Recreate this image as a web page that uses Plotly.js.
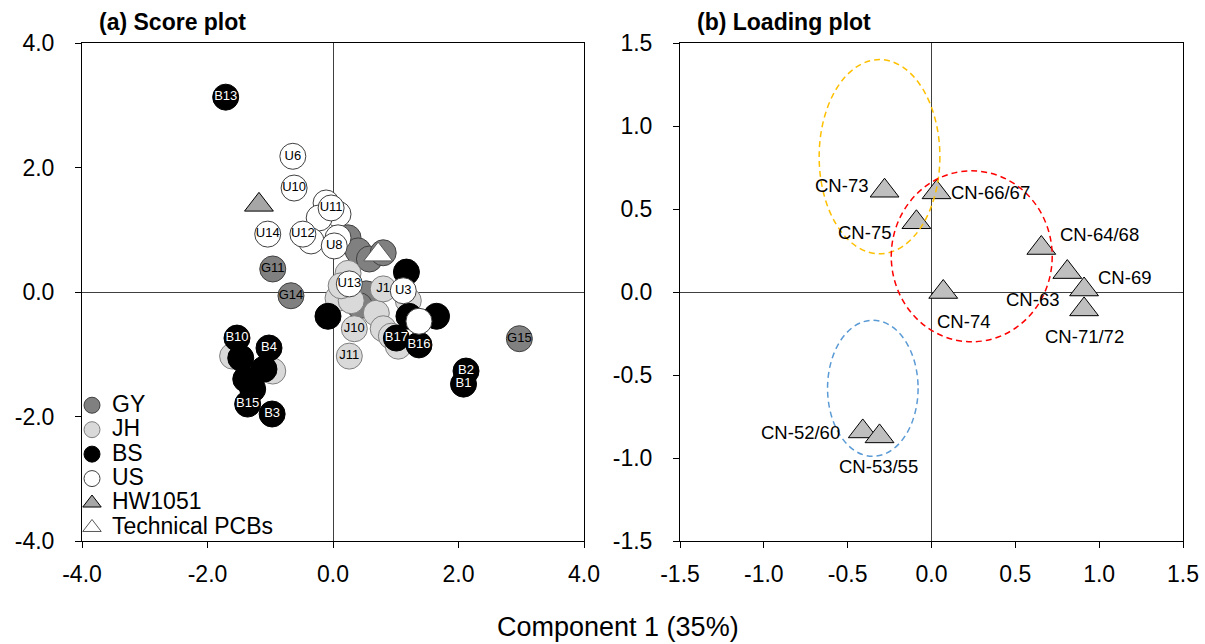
<!DOCTYPE html>
<html>
<head>
<meta charset="utf-8">
<script src="https://cdn.plot.ly/plotly-3.0.1.min.js"></script>
<style>html,body{margin:0;padding:0;background:#fff}#chart{width:1205px;height:644px}</style>
</head>
<body>
<div id="chart"></div>
<script>
// ---------- Score plot data ----------
const gyX = [0.24, 0.40, 0.58, 0.80, 0.53, 0.42, -0.96, -0.67, 2.97];
const gyY = [0.87, 0.66, 0.53, 0.63, -0.03, -0.22, 0.37, -0.06, -0.75];
const gyLabels = ['', '', '', '', '', '', 'G11', 'G14', 'G15'];

const jhX = [0.24, 0.08, 0.29, 0.69, 0.80, 0.93, 1.04, 1.20, 0.13, -1.60, -0.96, 0.80, 0.34, 0.26];
const jhY = [0.30, -0.10, -0.14, -0.34, -0.59, -0.71, -0.87, -0.14, 0.10, -1.03, -1.27, 0.05, -0.59, -1.03];
const jhLabels = ['', '', '', '', '', '', '', '', '', '', '', 'J1', 'J10', 'J11'];

const bsX = [1.17, -0.08, 1.21, 1.65, -1.47, -1.39, -1.28, -1.10, -1.71, -1.53, -1.02, -1.36, -0.97, 1.01, 1.37, 2.12, 2.08];
const bsY = [0.32, -0.39, -0.39, -0.39, -1.06, -1.40, -1.56, -1.24, 3.13, -0.74, -0.90, -1.80, -1.96, -0.74, -0.85, -1.27, -1.48];
const bsLabels = ['', '', '', '', '', '', '', '', 'B13', 'B10', 'B4', 'B15', 'B3', 'B17', 'B16', 'B2', 'B1'];

const usX = [-0.11, 0.08, -0.22, -0.35, 0.08, 1.37, -0.64, -0.62, -0.03, -1.04, -0.48, 0.02, 0.26, 1.12];
const usY = [1.43, 1.25, 1.19, 0.82, 0.87, -0.47, 2.18, 1.67, 1.35, 0.93, 0.93, 0.74, 0.13, 0.02];
const usLabels = ['', '', '', '', '', '', 'U6', 'U10', 'U11', 'U14', 'U12', 'U8', 'U13', 'U3'];

const hwX = [-1.18];
const hwY = [1.40];
const techX = [0.72];
const techY = [0.60];

const seriesNames = ['GY', 'JH', 'BS', 'US', 'HW1051', 'Technical PCBs'];

// ---------- Loading plot data ----------
const loadLabels = ['CN-73', 'CN-66/67', 'CN-75', 'CN-64/68', 'CN-63', 'CN-69', 'CN-71/72', 'CN-74', 'CN-52/60', 'CN-53/55'];
const loadX = [-0.28, 0.03, -0.09, 0.655, 0.81, 0.91, 0.91, 0.07, -0.41, -0.31];
const loadY = [0.61, 0.60, 0.42, 0.265, 0.12, 0.015, -0.105, 0.0, -0.84, -0.87];

// cluster ellipses (x0, x1, y0, y1) in loading units
const ellipseYellow = [-0.67, 0.05, 0.23, 1.40];
const ellipseRed = [-0.24, 0.72, -0.30, 0.73];
const ellipseBlue = [-0.62, -0.08, -0.99, -0.17];

// ---------- Tick labels ----------
const scoreTickVals = [-4, -2, 0, 2, 4];
const scoreTickText = ['-4.0', '-2.0', '0.0', '2.0', '4.0'];
const loadTickVals = [-1.5, -1.0, -0.5, 0, 0.5, 1.0, 1.5];
const loadTickText = ['-1.5', '-1.0', '-0.5', '0.0', '0.5', '1.0', '1.5'];

// ---------- Styles ----------
const FONT = 'Liberation Sans, Arial, Helvetica, sans-serif';
const CIRCLE = 26;
const TRI = 25;
// label placement for loading points (anchor, pixel shifts)
const loadLabelAnchor = ['right', 'left', 'right', 'left', 'right', 'left', 'center', 'left', 'right', 'center'];
const loadLabelDX = [-15, 12, -23, 17, -6, 12, 0, -8, -21, -1];
const loadLabelDY = [5, 0, -10, 14, -27, 12, -27, -29, -1, -30];

function circleTrace(name, x, y, labels, fill, edge, textColor) {
  return {
    type: 'scatter', mode: 'markers+text', name: name, x: x, y: y, text: labels,
    textposition: 'middle center',
    textfont: {family: FONT, size: 13, color: textColor},
    marker: {symbol: 'circle', size: CIRCLE, color: fill, line: {color: edge, width: 1}},
    xaxis: 'x', yaxis: 'y', hoverinfo: 'x+y+text'
  };
}
function legendName(s) { return '<span style="font-size:23px">' + s + '</span>'; }

const traces = [
  circleTrace(legendName(seriesNames[0]), gyX, gyY, gyLabels, '#808080', '#404040', '#000000'),
  circleTrace(legendName(seriesNames[1]), jhX, jhY, jhLabels, '#d9d9d9', '#7f7f7f', '#000000'),
  circleTrace(legendName(seriesNames[2]), bsX, bsY, bsLabels, '#000000', '#000000', '#ffffff'),
  circleTrace(legendName(seriesNames[3]), usX, usY, usLabels, '#ffffff', '#404040', '#000000'),
  {
    type: 'scatter', mode: 'markers', name: legendName(seriesNames[4]), x: hwX, y: hwY,
    marker: {symbol: 'triangle-up', size: TRI, color: '#a6a6a6', line: {color: '#000000', width: 1}},
    xaxis: 'x', yaxis: 'y'
  },
  {
    type: 'scatter', mode: 'markers', name: legendName(seriesNames[5]), x: techX, y: techY,
    marker: {symbol: 'triangle-up', size: TRI, color: '#ffffff', line: {color: '#595959', width: 1}},
    xaxis: 'x', yaxis: 'y'
  },
  {
    type: 'scatter', mode: 'markers', name: 'Loadings', showlegend: false,
    x: loadX, y: loadY, text: loadLabels, hoverinfo: 'x+y+text',
    marker: {symbol: 'triangle-up', size: TRI, color: '#bfbfbf', line: {color: '#000000', width: 1}},
    xaxis: 'x2', yaxis: 'y2', cliponaxis: false
  }
];

function ellipse(b, color) {
  return {type: 'circle', xref: 'x2', yref: 'y2', x0: b[0], x1: b[1], y0: b[2], y1: b[3],
          line: {color: color, width: 1.5, dash: '6px,4px'}, fillcolor: 'rgba(0,0,0,0)', layer: 'above'};
}

const axisCommon = {
  showgrid: false, showline: true, mirror: true, linecolor: '#000000', linewidth: 1,
  ticks: 'outside', ticklen: 6, tickcolor: '#000000', tickwidth: 1,
  zeroline: true, zerolinecolor: '#404040', zerolinewidth: 1,
  tickfont: {family: FONT, size: 23, color: '#000000'},
  fixedrange: true
};

const yTop = (644 - 43) / 644;
const yBot = (644 - 541) / 644;

const annotations = [
  {text: '<b>(a) Score plot</b>', xref: 'paper', yref: 'paper', x: 97 / 1205, y: (644 - 22) / 644,
   xanchor: 'left', yanchor: 'middle', showarrow: false, font: {family: FONT, size: 23, color: '#000000'}},
  {text: '<b>(b) Loading plot</b>', xref: 'paper', yref: 'paper', x: 695 / 1205, y: (644 - 22) / 644,
   xanchor: 'left', yanchor: 'middle', showarrow: false, font: {family: FONT, size: 23, color: '#000000'}},
  {text: 'Component 1 (35%)', xref: 'paper', yref: 'paper', x: 618 / 1205, y: (644 - 627) / 644,
   xanchor: 'center', yanchor: 'middle', showarrow: false, font: {family: FONT, size: 27, color: '#000000'}}
];
loadLabels.forEach(function (lab, i) {
  annotations.push({
    text: lab, xref: 'x2', yref: 'y2', x: loadX[i], y: loadY[i], showarrow: false,
    xanchor: loadLabelAnchor[i], yanchor: 'middle', xshift: loadLabelDX[i], yshift: loadLabelDY[i],
    font: {family: FONT, size: 18.5, color: '#000000'}
  });
});

const layout = {
  width: 1205, height: 644,
  margin: {l: 0, r: 0, t: 0, b: 0},
  paper_bgcolor: '#ffffff', plot_bgcolor: '#ffffff',
  font: {family: FONT, color: '#000000'},
  xaxis: Object.assign({}, axisCommon, {domain: [82 / 1205, 584 / 1205], range: [-4, 4],
    tickmode: 'array', tickvals: scoreTickVals, ticktext: scoreTickText, ticklabelstandoff: 6, anchor: 'y'}),
  yaxis: Object.assign({}, axisCommon, {domain: [yBot, yTop], range: [-4, 4],
    tickmode: 'array', tickvals: scoreTickVals, ticktext: scoreTickText, ticklabelstandoff: 16, anchor: 'x'}),
  xaxis2: Object.assign({}, axisCommon, {domain: [680 / 1205, 1183 / 1205], range: [-1.5, 1.5],
    tickmode: 'array', tickvals: loadTickVals, ticktext: loadTickText, ticklabelstandoff: 6, anchor: 'y2'}),
  yaxis2: Object.assign({}, axisCommon, {domain: [yBot, yTop], range: [-1.5, 1.5],
    tickmode: 'array', tickvals: loadTickVals, ticktext: loadTickText, ticklabelstandoff: 16, anchor: 'x2'}),
  showlegend: true,
  legend: {
    x: 72 / 1205, xanchor: 'left', y: (644 - 388) / 644, yanchor: 'top',
    bgcolor: 'rgba(0,0,0,0)', borderwidth: 0,
    font: {family: FONT, size: 16.5, color: '#000000'},
    itemclick: false, itemdoubleclick: false, tracegroupgap: 0
  },
  shapes: [
    ellipse(ellipseYellow, '#ffc000'),
    ellipse(ellipseRed, '#ff0000'),
    ellipse(ellipseBlue, '#5b9bd5')
  ],
  annotations: annotations
};

Plotly.newPlot('chart', traces, layout, {displayModeBar: false, staticPlot: true});
</script>
</body>
</html>
